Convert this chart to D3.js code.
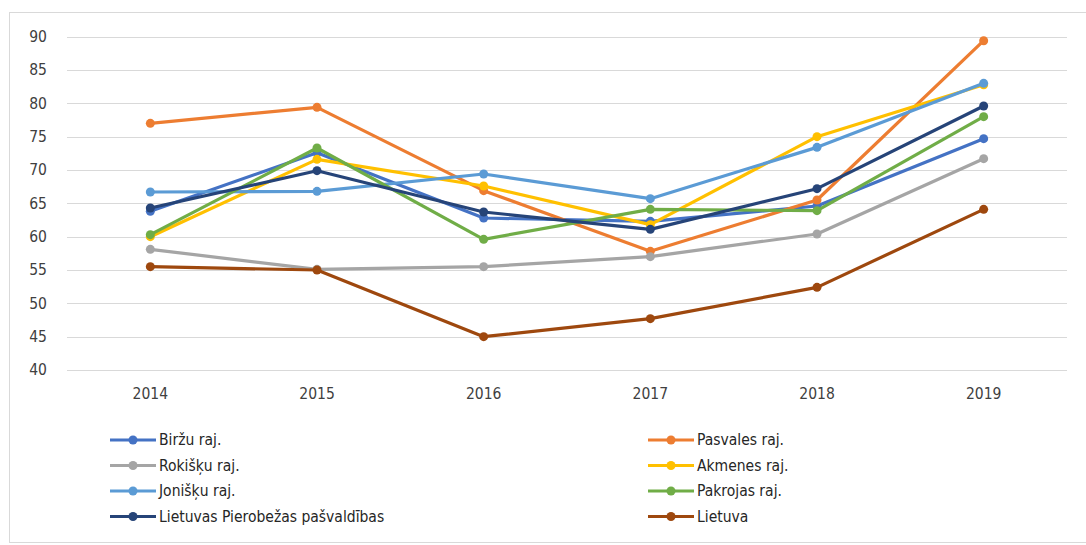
<!DOCTYPE html>
<html>
<head>
<meta charset="utf-8">
<script src="https://cdn.jsdelivr.net/npm/d3@7"></script>
<style>
  html, body { margin: 0; padding: 0; background: #fff; }
  svg { display: block; font-family: "DejaVu Sans Condensed", "DejaVu Sans", sans-serif; }
</style>
</head>
<body>
<svg id="chart" width="1086" height="545"></svg>
<script>
// Years along the x axis
const years = ["2014", "2015", "2016", "2017", "2018", "2019"];

// Y axis ticks
const yTicks = [40, 45, 50, 55, 60, 65, 70, 75, 80, 85, 90];

// One array per municipality
const birzu      = [63.8, 72.6, 62.8, 62.3, 64.6, 74.7];
const pasvales   = [77.0, 79.4, 66.9, 57.8, 65.5, 89.4];
const rokisku    = [58.1, 55.1, 55.5, 57.0, 60.4, 71.7];
const akmenes    = [60.0, 71.6, 67.6, 61.8, 75.0, 82.8];
const jonisku    = [66.7, 66.8, 69.4, 65.7, 73.4, 83.0];
const pakrojas   = [60.3, 73.3, 59.6, 64.1, 63.9, 78.0];
const pierobezas = [64.3, 69.9, 63.7, 61.1, 67.2, 79.6];
const lietuva    = [55.5, 55.0, 45.0, 47.7, 52.4, 64.1];

const seriesNames = [
  "Biržu raj.", "Pasvales raj.", "Rokišķu raj.", "Akmenes raj.",
  "Jonišķu raj.", "Pakrojas raj.", "Lietuvas Pierobežas pašvaldības", "Lietuva"
];
const seriesValues = [birzu, pasvales, rokisku, akmenes, jonisku, pakrojas, pierobezas, lietuva];
const seriesColors = ["#4472C4", "#ED7D31", "#A5A5A5", "#FFC000", "#5B9BD5", "#70AD47", "#264478", "#9E480E"];

const series = seriesNames.map((name, i) => ({
  name, color: seriesColors[i],
  points: years.map((y, j) => ({ year: y, value: seriesValues[i][j] }))
}));

const FONT = "DejaVu Sans Condensed, DejaVu Sans, sans-serif";
const svg = d3.select("#chart");

// Chart frame
svg.append("rect")
  .attr("x", 9.5).attr("y", 12.5)
  .attr("width", 1090).attr("height", 530)
  .attr("fill", "#fff").attr("stroke", "#d9d9d9").attr("stroke-width", 1);

const plot = { left: 67, right: 1067, top: 36.7, bottom: 370 };

const x = d3.scaleBand().domain(years).range([plot.left, plot.right]);
const y = d3.scaleLinear().domain([40, 90]).range([plot.bottom, plot.top]);

// Horizontal gridlines
svg.append("g")
  .selectAll("line")
  .data(yTicks)
  .join("line")
  .attr("x1", plot.left).attr("x2", plot.right)
  .attr("y1", d => Math.round(y(d)) + 0.5).attr("y2", d => Math.round(y(d)) + 0.5)
  .attr("stroke", "#d9d9d9").attr("stroke-width", 1);

// Y axis labels
const yAxis = d3.axisLeft(y).tickValues(yTicks).tickSize(0).tickPadding(0);
const gy = svg.append("g").attr("transform", "translate(47,0)").call(yAxis);
gy.select(".domain").remove();
gy.selectAll("text")
  .attr("fill", "#404040").attr("font-size", 15.5)
  .attr("font-family", FONT);

// X axis labels
const xAxis = d3.axisBottom(x).tickSize(0).tickPadding(0);
const gx = svg.append("g").attr("transform", `translate(0,${plot.bottom + 18})`).call(xAxis);
gx.select(".domain").remove();
gx.selectAll("text")
  .attr("fill", "#404040").attr("font-size", 15.5)
  .attr("font-family", FONT);

const cx = d => x(d.year) + x.bandwidth() / 2;
const line = d3.line().x(cx).y(d => y(d.value));

// Lines with round markers, drawn in series order
const sg = svg.append("g").selectAll("g").data(series).join("g");
sg.append("path")
  .attr("d", d => line(d.points))
  .attr("fill", "none")
  .attr("stroke", d => d.color)
  .attr("stroke-width", 3.2)
  .attr("stroke-linejoin", "round")
  .attr("stroke-linecap", "round");
sg.selectAll("circle")
  .data(d => d.points.map(p => ({ ...p, color: d.color })))
  .join("circle")
  .attr("cx", cx).attr("cy", d => y(d.value))
  .attr("r", 4.5)
  .attr("fill", d => d.color);

// Legend in two columns, row-major order
const legendCols = [110, 648];
const legendRows = [440, 465.5, 491, 516.5];
const lg = svg.append("g").selectAll("g").data(series).join("g")
  .attr("transform", (d, i) => `translate(${legendCols[i % 2]},${legendRows[Math.floor(i / 2)]})`);
lg.append("line")
  .attr("x1", 0).attr("x2", 46).attr("y1", 0).attr("y2", 0)
  .attr("stroke", d => d.color).attr("stroke-width", 3.2);
lg.append("circle").attr("cx", 23).attr("cy", 0).attr("r", 4.5).attr("fill", d => d.color);
lg.append("text")
  .attr("x", 49).attr("y", 0).attr("dy", "0.35em")
  .attr("font-size", 15.5).attr("fill", "#262626")
  .attr("font-family", FONT)
  .text(d => d.name);
</script>
</body>
</html>
